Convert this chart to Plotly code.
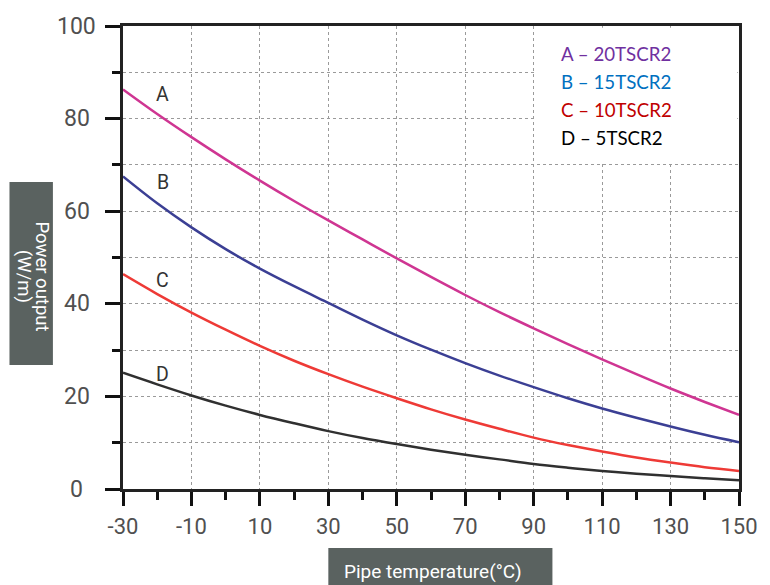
import plotly.graph_objects as go

# ---- data ----
temps = [-30, -20, -10, 0, 10, 20, 30, 40, 50, 60, 70, 80, 90, 100, 110, 120, 130, 140, 150]
curve_a = [86.3, 81.0, 76.0, 71.2, 66.6, 62.2, 58.0, 53.9, 49.8, 45.8, 41.9, 38.2, 34.7, 31.3, 28.0, 24.8, 21.7, 18.8, 16.0]
curve_b = [67.5, 61.7, 56.5, 51.8, 47.6, 43.8, 40.2, 36.6, 33.2, 30.1, 27.2, 24.5, 22.0, 19.6, 17.4, 15.4, 13.5, 11.7, 10.1]
curve_c = [46.4, 42.1, 38.1, 34.4, 30.9, 27.7, 24.8, 22.1, 19.6, 17.2, 15.0, 13.0, 11.1, 9.5, 8.1, 6.8, 5.7, 4.7, 3.9]
curve_d = [25.1, 22.6, 20.2, 18.0, 16.0, 14.2, 12.5, 11.0, 9.7, 8.5, 7.4, 6.4, 5.4, 4.6, 3.9, 3.3, 2.8, 2.3, 1.9]

series_names = ["A", "B", "C", "D"]
series_values = [curve_a, curve_b, curve_c, curve_d]
line_colors = ["#cf3592", "#3b3f94", "#ee3a36", "#303030"]

legend_texts = ["A \u2013 20TSCR2", "B \u2013 15TSCR2", "C \u2013 10TSCR2", "D \u2013 5TSCR2"]
legend_colors = ["#7030a0", "#0070c0", "#c00000", "#000000"]

label_x = -18.4
label_y = [85.1, 66.1, 45.1, 24.8]

x_tickvals = [-30, -10, 10, 30, 50, 70, 90, 110, 130, 150]
y_tickvals = [0, 20, 40, 60, 80, 100]

y_title_lines = ["Power output", "(W/m)"]
x_title = "Pipe temperature(\u00b0C)"

# ---- layout geometry (figure pixels; page body adds 8px offset) ----
W, H = 762, 577
L, R, T, B = 115, 23, 18, 96
PW, PH = W - L - R, H - T - B


def px(xr):
    # reference-screen x pixel -> paper x
    return (xr - 8 - L) / PW


def py(yr):
    # reference-screen y pixel -> paper y
    return (H - B - (yr - 8)) / PH


fig = go.Figure()
for name, vals, col in zip(series_names, series_values, line_colors):
    fig.add_trace(go.Scatter(x=temps, y=vals, mode="lines", name=name,
                             line=dict(color=col, width=2.5, shape="spline", smoothing=1.0),
                             showlegend=False, hoverinfo="skip"))

# curve letters
for name, yv in zip(series_names, label_y):
    fig.add_annotation(x=label_x, y=yv, text=name, showarrow=False,
                       xanchor="center", yanchor="middle",
                       font=dict(family="Roboto", size=19.5, color="#333333"))

# legend text block
for i, (t, c) in enumerate(zip(legend_texts, legend_colors)):
    fig.add_annotation(xref="paper", yref="paper", x=px(565), y=py(54 + 28 * i),
                       xanchor="left", yanchor="middle", text=t, showarrow=False,
                       font=dict(family="Lato", size=18.7, color=c))

# white area behind legend (grid removed there)
fig.add_shape(type="rect", x0=90.6, x1=149.5, y0=70.4, y1=99.6, xref="x", yref="y",
              fillcolor="white", line=dict(width=0), layer="between")

# axis title boxes
box_col = "#5a6260"
fig.add_shape(type="rect", xref="paper", yref="paper", x0=px(8), x1=px(52), y0=py(365), y1=py(182),
              fillcolor=box_col, line=dict(width=0), layer="above")
fig.add_shape(type="rect", xref="paper", yref="paper", x0=px(331), x1=px(558), y0=py(595), y1=py(548),
              fillcolor=box_col, line=dict(width=0), layer="above")
for txt, xc in zip(y_title_lines, [40.5, 23]):
    fig.add_annotation(xref="paper", yref="paper", x=px(xc), y=py(276), text=txt,
                       textangle=90, showarrow=False, xanchor="center", yanchor="middle",
                       font=dict(family="Roboto", size=18.5, color="white"))
fig.add_annotation(xref="paper", yref="paper", x=px(437), y=py(571), text=x_title,
                   showarrow=False, xanchor="center", yanchor="middle",
                   font=dict(family="Roboto", size=19, color="white"))

# y tick labels (centred under each other, as in the reference)
for v in y_tickvals:
    fig.add_annotation(xref="paper", yref="y", x=px(76), y=v, text=str(v), showarrow=False,
                       xanchor="center", yanchor="middle",
                       font=dict(family="Roboto", size=23, color="#505050"))

tick_font = dict(family="Roboto", size=22, color="#505050")

fig.update_xaxes(range=[-30, 150], tickmode="array", tickvals=x_tickvals,
                 ticktext=[str(v) for v in x_tickvals],
                 showline=True, linecolor="#222222", linewidth=2.5, mirror=True,
                 showgrid=True, gridcolor="#9a9a9a", griddash="dot", gridwidth=1.2,
                 ticks="outside", ticklen=14, tickwidth=2.5, tickcolor="#111111",
                 minor=dict(dtick=10, tick0=-30, ticks="outside", ticklen=8, tickwidth=2.5,
                            tickcolor="#111111", showgrid=False),
                 tickfont=tick_font, ticklabelstandoff=2, zeroline=False)
fig.update_yaxes(range=[0, 100], tickmode="array", tickvals=y_tickvals,
                 showticklabels=False,
                 showline=True, linecolor="#222222", linewidth=2.5, mirror=True,
                 showgrid=True, gridcolor="#9a9a9a", griddash="dot", gridwidth=1.2,
                 ticks="outside", ticklen=15, tickwidth=3, tickcolor="#111111",
                 minor=dict(dtick=10, tick0=0, ticks="outside", ticklen=8, tickwidth=2.5,
                            tickcolor="#111111", showgrid=True, gridcolor="#9a9a9a",
                            griddash="dot", gridwidth=1.2),
                 zeroline=False)

fig.update_layout(width=W, height=H, autosize=False,
                  margin=dict(l=L, r=R, t=T, b=B),
                  plot_bgcolor="white", paper_bgcolor="white")

fig.write_html("out.html")
